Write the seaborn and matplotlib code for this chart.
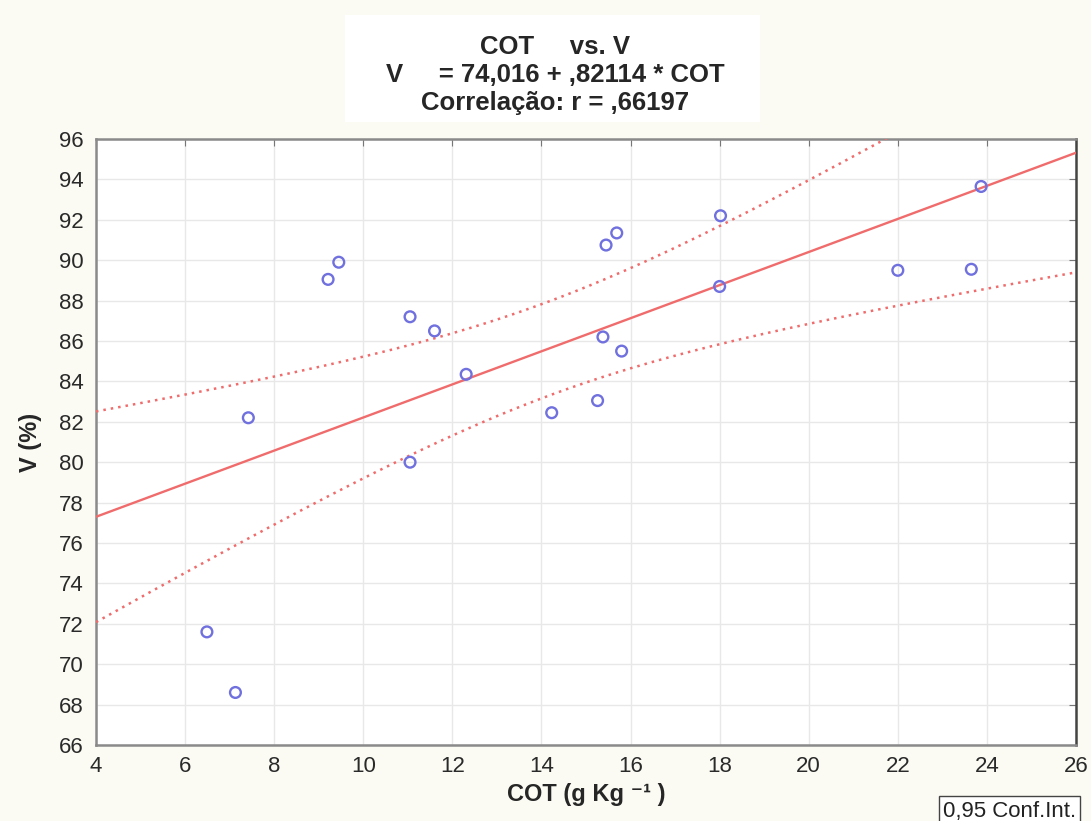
import numpy as np
import pandas as pd
import matplotlib
matplotlib.use("Agg")
import matplotlib.pyplot as plt
from matplotlib.patches import Rectangle
import seaborn as sns

# Data
cot = [6.49, 7.13, 7.42, 9.21, 9.45, 11.05, 11.05, 11.60, 12.31, 14.23,
       15.26, 15.38, 15.45, 15.69, 15.80, 18.02, 18.00, 22.00, 23.65, 23.87]
v = [71.6, 68.6, 82.2, 89.05, 89.9, 87.2, 80.0, 86.5, 84.35, 82.45,
     83.05, 86.2, 90.75, 91.35, 85.5, 92.2, 88.7, 89.5, 89.55, 93.65]
xticks = [4, 6, 8, 10, 12, 14, 16, 18, 20, 22, 24, 26]
yticks = list(range(66, 97, 2))
title_lines = ["COT     vs. V", "V     = 74,016 + ,82114 * COT", "Correlação: r = ,66197"]

df = pd.DataFrame({"COT": cot, "V": v})

sns.set_style("white")
plt.rcParams["font.family"] = ["Liberation Sans", "DejaVu Sans"]

W, H = 1091, 821
fig = plt.figure(figsize=(W / 100, H / 100), dpi=100)
fig.patch.set_facecolor("#fbfbf3")
ax = fig.add_axes([96 / W, 1 - 745 / H, (1076 - 96) / W, (745 - 139) / H])
ax.set_facecolor("white")
ax.set_xlim(4, 26)
ax.set_ylim(66, 96)

red = "#f06c6c"
blue = "#7070de"

# regression line across the axes
sns.regplot(data=df, x="COT", y="V", ax=ax, scatter=False, ci=None,
            truncate=False, line_kws=dict(color=red, lw=1.7, zorder=3))

# 95% confidence band of the mean (analytic), drawn as dotted lines
x = np.asarray(cot); y = np.asarray(v); n = len(x)
b1, b0 = np.polyfit(x, y, 1)
resid = y - (b0 + b1 * x)
s = np.sqrt(np.sum(resid ** 2) / (n - 2))
sxx = np.sum((x - x.mean()) ** 2)
tcrit = 2.1009  # t(0.975, df=18)
xg = np.linspace(4, 26, 200)
yg = b0 + b1 * xg
half = tcrit * s * np.sqrt(1 / n + (xg - x.mean()) ** 2 / sxx)
band = pd.DataFrame({"x": np.concatenate([xg, xg]),
                     "y": np.concatenate([yg + half, yg - half]),
                     "side": ["upper"] * len(xg) + ["lower"] * len(xg)})
for side in ["upper", "lower"]:
    sns.lineplot(data=band[band.side == side], x="x", y="y", ax=ax, color=red,
                 lw=1.8, linestyle=(0, (1, 2)), zorder=3)

sns.scatterplot(data=df, x="COT", y="V", ax=ax, marker="o", s=60,
                facecolor="none", edgecolor=blue, linewidth=1.7, zorder=4)

ax.set_xlim(4, 26)
ax.set_ylim(66, 96)
ax.set_xticks(xticks)
ax.set_yticks(yticks)
ax.set_xticklabels([str(t) for t in xticks], fontsize=16, color="#2a2a2a")
ax.set_yticklabels([str(t) for t in yticks], fontsize=16, color="#2a2a2a")
ax.grid(True, color="#e8e8e8", lw=1.0)
ax.tick_params(direction="in", length=5, color="#777", top=True, right=True,
               labeltop=False, labelright=False)
ax.tick_params(axis="y", pad=9)
ax.tick_params(axis="x", pad=8)
for name, sp in ax.spines.items():
    sp.set_color("#444" if name == "right" else "#8a8a8a")
    sp.set_linewidth(1.8)

ax.set_xlabel("COT (g Kg ⁻¹ )", fontsize=17, fontweight="bold", labelpad=4)
ax.set_ylabel("V (%)", fontsize=17, fontweight="bold", labelpad=12)

fig.patches.append(Rectangle((345 / W, 1 - 122 / H), 415 / W, 107 / H,
                             transform=fig.transFigure, facecolor="white",
                             edgecolor="none", zorder=0))
fig.text(555 / W, 1 - 75 / H, "\n".join(title_lines), ha="center", va="center",
         fontsize=18.5, fontweight="bold", linespacing=1.2)

fig.text(943 / W, 1 - 811 / H, "0,95 Conf.Int.", ha="left", va="center", fontsize=16,
         color="#222", bbox=dict(facecolor="white", edgecolor="#444", pad=3, lw=1))

fig.savefig("out.png", dpi=100, facecolor=fig.get_facecolor())
